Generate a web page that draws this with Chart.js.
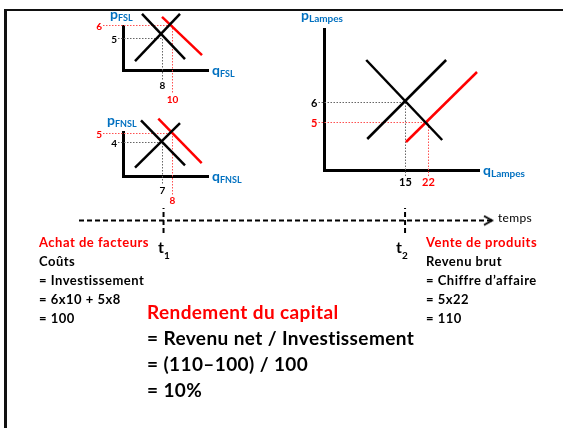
<!DOCTYPE html>
<html>
<head>
<meta charset="utf-8">
<script src="https://cdn.jsdelivr.net/npm/chart.js@4.4.0/dist/chart.umd.min.js"></script>
<style>
  html, body { margin: 0; padding: 0; background: #fff; }
  #slide { position: relative; width: 563px; height: 428px; overflow: hidden; font-family: Lato, 'Open Sans', sans-serif; font-weight: 700; }
  #frame { position: absolute; left: 4px; top: 9px; width: 600px; height: 500px; border-top: 2px solid #111; border-left: 3px solid #111; }
  canvas { position: absolute; }
  .ax { position: absolute; color: #0070c0; font-size: 14px; line-height: 14px; white-space: nowrap; }
  .ax sub { font-size: 9px; line-height: 0; vertical-align: -2px; }
  .ax.big sub { font-size: 10px; }
  .block { position: absolute; font-size: 13px; letter-spacing: 0.5px; line-height: 19px; white-space: nowrap; color: #000; }
  .red { color: #ff0000; }
  .calc { position: absolute; left: 147px; top: 299px; font-size: 19px; letter-spacing: 0.4px; line-height: 26px; white-space: nowrap; }
  .t { position: absolute; top: 239px; font-size: 16px; line-height: 16px; }
  .t sub { font-size: 10px; line-height: 0; vertical-align: -6px; }
  .temps { position: absolute; left: 498px; top: 212px; font-size: 12px; letter-spacing: 0.3px; line-height: 12px; font-weight: 400; }
</style>
</head>
<body>
<div id="slide">
  <div id="frame"></div>

  <canvas id="fsl" width="190" height="110" style="left:70px;top:0px"></canvas>
  <canvas id="fnsl" width="190" height="100" style="left:70px;top:110px"></canvas>
  <canvas id="lamp" width="215" height="180" style="left:290px;top:20px"></canvas>
  <canvas id="time" width="460" height="45" style="left:60px;top:200px"></canvas>

  <div class="ax" style="left:110px;top:7px">p<sub>FSL</sub></div>
  <div class="ax" style="left:212px;top:63px">q<sub>FSL</sub></div>
  <div class="ax" style="left:107px;top:113px">p<sub>FNSL</sub></div>
  <div class="ax" style="left:212px;top:169px">q<sub>FNSL</sub></div>
  <div class="ax big" style="left:301px;top:8px">p<sub>Lampes</sub></div>
  <div class="ax big" style="left:483px;top:163px">q<sub>Lampes</sub></div>

  <div class="temps">temps</div>
  <div class="t" style="left:158px">t<sub>1</sub></div>
  <div class="t" style="left:396px">t<sub>2</sub></div>

  <div class="block" style="left:39px;top:233px">
    <span class="red">Achat de facteurs</span><br>
    Coûts<br>
    = Investissement<br>
    = 6x10 + 5x8<br>
    = 100
  </div>
  <div class="block" style="left:426px;top:233px">
    <span class="red">Vente de produits</span><br>
    Revenu brut<br>
    = Chiffre d’affaire<br>
    = 5x22<br>
    = 110
  </div>
  <div class="calc">
    <span class="red">Rendement du capital</span><br>
    = Revenu net / Investissement<br>
    = (110–100) / 100<br>
    = 10%
  </div>
</div>

<script>
// FSL market: demand, supply, shifted demand (q, p)
const fslDemand = [[4.0, 6.85], [12.6, 3.38]];
const fslSupply = [[2.6, 3.23], [11.6, 6.85]];
const fslDemand2 = [[8.0, 6.62], [16.0, 3.69]];
const fslQ = [8, 10];
const fslP = [5, 6];
const fslQRange = [0.2, 17.2];
const fslPRange = [2.5, 5.885];

// FNSL market
const fnslDemand = [[4.9, 6.44], [9.3, 1.44]];
const fnslSupply = [[4.3, 1.19], [8.8, 6.14]];
const fnslDemand2 = [[6.63, 6.63], [10.97, 1.7]];
const fnslQ = [7, 8];
const fnslP = [4, 5];
const fnslQRange = [3.1, 11.6];
const fnslPRange = [0.2, 5.09];

// Lampes market: demand, supply, shifted supply
const lampDemand = [[3.2, 8.1], [26.3, 4.1]];
const lampSupply = [[3.5, 4.15], [27.5, 8.1]];
const lampSupply2 = [[15.3, 4.0], [36.9, 7.5]];
const lampQ = [15, 22];
const lampP = [6, 5];
const lampQRange = [-9.5, 37.5];
const lampPRange = [2.6, 9.65];

// time axis: t1, t2 and the span of the arrow
const timeMarks = [1, 2];
const timeSpan = [0.65, 2.36];

const RED = '#ff0000';
const toXY = pts => pts.map(([x, y]) => ({ x, y }));

// dotted guide lines from each equilibrium to the axes, with their value labels
const guidePlugin = {
  id: 'guides',
  beforeDatasetsDraw(chart, args, opts) {
    const { ctx, chartArea: a, scales: { x, y } } = chart;
    opts.q.forEach((q, i) => {
      const p = opts.p[i];
      const px = Math.round(x.getPixelForValue(q)) + 0.5;
      const py = Math.round(y.getPixelForValue(p)) + 0.5;
      const x0 = a.left - opts.left[i];
      const y0 = a.bottom + opts.down[i];
      ctx.save();
      ctx.strokeStyle = i === 0 ? '#666' : '#ff5050';
      ctx.lineWidth = 1;
      ctx.setLineDash([1.5, 1.5]);
      ctx.beginPath();
      ctx.moveTo(x0, py);
      ctx.lineTo(px, py);
      ctx.lineTo(px, y0);
      ctx.stroke();
      ctx.setLineDash([]);
      ctx.fillStyle = i === 0 ? '#000' : RED;
      ctx.font = 'bold ' + opts.fontSize + 'px Lato';
      ctx.textAlign = 'right';
      ctx.textBaseline = 'middle';
      ctx.fillText(String(p), x0 - 1, py + 1);
      ctx.textAlign = 'center';
      ctx.textBaseline = 'top';
      ctx.fillText(String(q), px, y0 + 1);
      ctx.restore();
    });
  }
};

function line(pts, color) {
  return { data: toXY(pts), showLine: true, borderColor: color, borderWidth: 2.5, pointRadius: 0, clip: false };
}

const axisOpts = { grid: { display: false, drawTicks: false }, ticks: { display: false }, border: { color: '#000', width: 3 } };

function marketChart(id, sets, qRange, pRange, q, p, padding, guide) {
  return new Chart(document.getElementById(id), {
    type: 'scatter',
    data: { datasets: sets },
    options: {
      responsive: false,
      animation: false,
      events: [],
      layout: { padding, autoPadding: false },
      plugins: {
        legend: { display: false },
        tooltip: { enabled: false },
        guides: Object.assign({ q, p }, guide),
      },
      scales: {
        x: Object.assign({ type: 'linear', min: qRange[0], max: qRange[1] }, axisOpts),
        y: Object.assign({ type: 'linear', min: pRange[0], max: pRange[1] }, axisOpts),
      },
    },
    plugins: [guidePlugin],
  });
}

marketChart('fsl',
  [line(fslDemand, '#000'), line(fslSupply, '#000'), line(fslDemand2, RED)],
  fslQRange, fslPRange, fslQ, fslP,
  { left: 53, right: 52, top: 26.5, bottom: 39.5 },
  { left: [5, 20], down: [9, 23], fontSize: 10 });

marketChart('fnsl',
  [line(fnslDemand, '#000'), line(fnslSupply, '#000'), line(fnslDemand2, RED)],
  fnslQRange, fnslPRange, fnslQ, fnslP,
  { left: 53, right: 52, top: 22.5, bottom: 33.5 },
  { left: [5, 20], down: [8.5, 18.5], fontSize: 10 });

marketChart('lamp',
  [line(lampDemand, '#000'), line(lampSupply, '#000'), line(lampSupply2, RED)],
  lampQRange, lampPRange, lampQ, lampP,
  { left: 34.5, right: 26, top: 9, bottom: 30 },
  { left: [6, 6], down: [6, 6], fontSize: 11 });

// open arrow head for the time axis
const arrow = document.createElement('canvas');
arrow.width = 18;
arrow.height = 12;
const actx = arrow.getContext('2d');
actx.strokeStyle = '#000';
actx.lineWidth = 2;
actx.beginPath();
actx.moveTo(1, 1.5);
actx.lineTo(9, 6);
actx.lineTo(1, 10.5);
actx.stroke();

const dashed = { showLine: true, borderColor: '#000', borderWidth: 2, borderDash: [5, 3], pointRadius: 0, clip: false };
new Chart(document.getElementById('time'), {
  type: 'scatter',
  data: {
    datasets: [
      Object.assign({}, dashed, { data: [{ x: timeSpan[0], y: 0 }, { x: timeSpan[1], y: 0 }] }),
      ...timeMarks.map(t => Object.assign({}, dashed, { data: [{ x: t, y: -1 }, { x: t, y: 1 }] })),
      { data: [{ x: timeSpan[1], y: 0 }], pointStyle: arrow, pointRadius: 5, clip: false },
    ],
  },
  options: {
    responsive: false,
    animation: false,
    events: [],
    layout: { padding: { left: 19, right: 28, top: 8, bottom: 12 }, autoPadding: false },
    plugins: { legend: { display: false }, tooltip: { enabled: false } },
    scales: {
      x: { type: 'linear', min: timeSpan[0], max: timeSpan[1], display: false },
      y: { type: 'linear', min: -1, max: 1, display: false },
    },
  },
});
</script>
</body>
</html>
